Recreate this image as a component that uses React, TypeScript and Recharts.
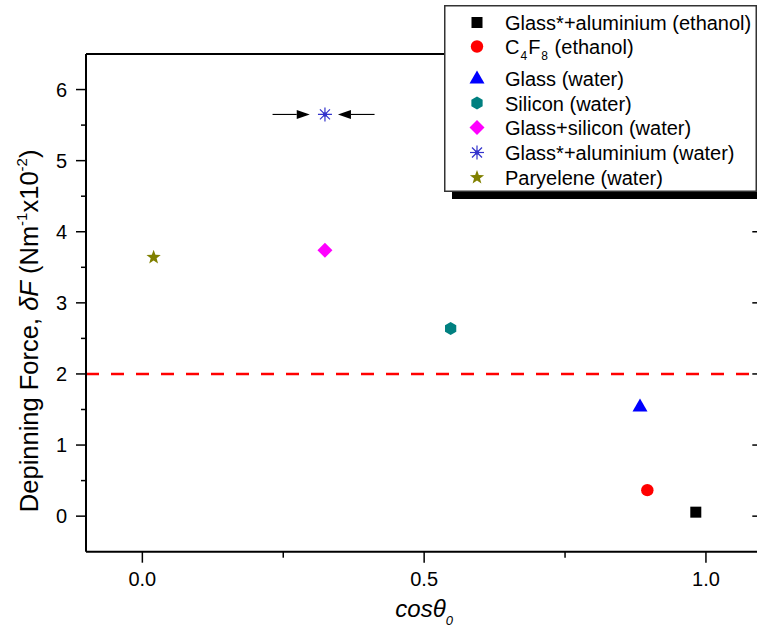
import React from "react";
import { ScatterChart, Scatter, XAxis, YAxis, ReferenceLine } from "recharts";

// one point per surface / liquid pair (cos theta0, depinning force x10^-2)
const glassAlEthanol = [{ x: 0.982, y: 0.056 }];
const c4f8Ethanol = [{ x: 0.896, y: 0.366 }];
const glassWater = [{ x: 0.883, y: 1.55 }];
const siliconWater = [{ x: 0.547, y: 2.64 }];
const glassSiliconWater = [{ x: 0.324, y: 3.74 }];
const glassAlWater = [{ x: 0.324, y: 5.65 }];
const paryleneWater = [{ x: 0.02, y: 3.64 }];

const seriesNames = [
  "Glass*+aluminium (ethanol)",
  "C4F8 (ethanol)",
  "Glass (water)",
  "Silicon (water)",
  "Glass+silicon (water)",
  "Glass*+aluminium (water)",
  "Paryelene (water)",
];

const xTicks = [0, 0.25, 0.5, 0.75, 1];
const xMajor = [0, 0.5, 1];
const yTicks = [0, 0.5, 1, 1.5, 2, 2.5, 3, 3.5, 4, 4.5, 5, 5.5, 6];
const thresholdForce = 2;
// arrows pointing at the glass*+aluminium (water) point
const arrowFrom = [0.231, 0.412];
const arrowTo = [0.297, 0.347];
const arrowLevel = 5.65;

const FONT = '"Liberation Sans", Arial, sans-serif';

const series = [
  { data: glassAlEthanol, kind: "square", color: "#000000" },
  { data: c4f8Ethanol, kind: "circle", color: "#ff0000" },
  { data: glassWater, kind: "triangle", color: "#0000ff" },
  { data: siliconWater, kind: "hexagon", color: "#008080" },
  { data: glassSiliconWater, kind: "diamond", color: "#ff00ff" },
  { data: glassAlWater, kind: "asterisk", color: "#3333cc" },
  { data: paryleneWater, kind: "star", color: "#808000" },
].map((s, i) => ({ ...s, name: seriesNames[i] }));

function Marker({ kind, cx, cy, color }: { kind: string; cx: number; cy: number; color: string }) {
  switch (kind) {
    case "square":
      return <rect x={cx - 5.5} y={cy - 5.5} width={11} height={11} fill={color} />;
    case "circle":
      return <circle cx={cx} cy={cy} r={6.2} fill={color} />;
    case "triangle":
      return <polygon points={`${cx},${cy - 7.5} ${cx + 7.5},${cy + 5.5} ${cx - 7.5},${cy + 5.5}`} fill={color} />;
    case "hexagon": {
      const pts = [0, 1, 2, 3, 4, 5]
        .map((k) => {
          const a = (Math.PI / 3) * k - Math.PI / 2;
          return `${cx + 6.5 * Math.cos(a)},${cy + 6.5 * Math.sin(a)}`;
        })
        .join(" ");
      return <polygon points={pts} fill={color} />;
    }
    case "diamond":
      return <polygon points={`${cx},${cy - 7.5} ${cx + 7.5},${cy} ${cx},${cy + 7.5} ${cx - 7.5},${cy}`} fill={color} />;
    case "asterisk":
      return (
        <g stroke={color} strokeWidth={1.2}>
          <line x1={cx} y1={cy - 7} x2={cx} y2={cy + 7} />
          <line x1={cx - 7} y1={cy} x2={cx + 7} y2={cy} />
          <line x1={cx - 5} y1={cy - 5} x2={cx + 5} y2={cy + 5} />
          <line x1={cx - 5} y1={cy + 5} x2={cx + 5} y2={cy - 5} />
          <circle cx={cx} cy={cy} r={1.6} fill={color} />
        </g>
      );
    case "star": {
      const pts = Array.from({ length: 10 })
        .map((_, k) => {
          const r = k % 2 === 0 ? 7.5 : 3.1;
          const a = (Math.PI / 5) * k - Math.PI / 2;
          return `${cx + r * Math.cos(a)},${cy + r * Math.sin(a)}`;
        })
        .join(" ");
      return <polygon points={pts} fill={color} />;
    }
    default:
      return null;
  }
}

function BottomTick({ x, y, payload }: any) {
  const major = xMajor.includes(payload.value);
  return (
    <g>
      <line x1={x} y1={y} x2={x} y2={y + (major ? 11 : 6)} stroke="#000" strokeWidth={1.5} />
      {major && (
        <text x={x} y={y + 34} textAnchor="middle" fontFamily={FONT} fontSize={20} fill="#000">
          {payload.value.toFixed(1)}
        </text>
      )}
    </g>
  );
}

function TopTick({ x, y, payload }: any) {
  const major = xMajor.includes(payload.value);
  return <line x1={x} y1={y} x2={x} y2={y + (major ? 11 : 6)} stroke="#000" strokeWidth={1.5} />;
}

function LeftTick({ x, y, payload }: any) {
  const major = Number.isInteger(payload.value);
  return (
    <g>
      <line x1={x - (major ? 10 : 5)} y1={y} x2={x} y2={y} stroke="#000" strokeWidth={1.5} />
      {major && (
        <text x={x - 19} y={y + 7} textAnchor="end" fontFamily={FONT} fontSize={20} fill="#000">
          {payload.value}
        </text>
      )}
    </g>
  );
}

function RightTick({ x, y, payload }: any) {
  const major = Number.isInteger(payload.value);
  return <line x1={x - (major ? 10 : 5)} y1={y} x2={x} y2={y} stroke="#000" strokeWidth={1.5} />;
}

function Arrow(props: any) {
  const { x1, y1, x2, y2 } = props;
  const dir = x2 > x1 ? 1 : -1;
  const head = 13;
  return (
    <g>
      <line x1={x1} y1={y1} x2={x2 - dir * head} y2={y2} stroke="#000" strokeWidth={1.1} />
      <polygon points={`${x2},${y2} ${x2 - dir * head},${y2 - 4.5} ${x2 - dir * head},${y2 + 4.5}`} fill="#000" />
    </g>
  );
}

function YTitle({ viewBox }: any) {
  const cx = 38;
  const cy = viewBox.y + viewBox.height / 2 + 28;
  return (
    <text
      x={cx}
      y={cy}
      transform={`rotate(-90 ${cx} ${cy})`}
      textAnchor="middle"
      fontFamily={FONT}
      fontSize={25.5}
      fill="#000"
    >
      Depinning Force, <tspan fontStyle="italic">δF</tspan> (Nm
      <tspan fontSize={15} dy={-11}>-1</tspan>
      <tspan dy={11}>x10</tspan>
      <tspan fontSize={15} dy={-11}>-2</tspan>
      <tspan dy={11}>)</tspan>
    </text>
  );
}

function XTitle({ viewBox }: any) {
  const cx = viewBox.x + viewBox.width / 2;
  const base = viewBox.y + 65;
  return (
    <text x={cx} y={base} textAnchor="middle" fontFamily={FONT} fontSize={24} fontStyle="italic" fill="#000">
      cosθ
      <tspan fontSize={13} dy={8}>0</tspan>
    </text>
  );
}

// splits "C4F8" so digits after a letter become subscripts
function LegendLabel({ text, x, y }: { text: string; x: number; y: number }) {
  const parts = text.split(/(?<=[A-Z])(\d)/);
  return (
    <text x={x} y={y} fontFamily={FONT} fontSize={20} fill="#000">
      {parts.map((p, i) => {
        const sub = /^\d$/.test(p);
        const afterSub = i > 0 && /^\d$/.test(parts[i - 1]);
        return (
          <tspan key={i} fontSize={sub ? 12 : 20} dy={sub ? 6 : afterSub ? -6 : 0} dx={i === 0 ? 0 : 1}>
            {p}
          </tspan>
        );
      })}
    </text>
  );
}

const legendBaselines = [25, 49, 80.5, 105.5, 130, 155, 180];

function LegendBox() {
  return (
    <svg width={322} height={196} style={{ position: "absolute", left: 444, top: 5 }}>
      <rect x={8} y={8} width={312} height={186} fill="#000" />
      <rect x={0.75} y={0.75} width={311.5} height={185.5} fill="#fff" stroke="#333" strokeWidth={1.5} />
      {series.map((s, i) => (
        <g key={s.name}>
          <Marker kind={s.kind} cx={33} cy={legendBaselines[i] - 7.5} color={s.color} />
          <LegendLabel text={s.name} x={61} y={legendBaselines[i]} />
        </g>
      ))}
    </svg>
  );
}

export default function App() {
  return (
    <div style={{ position: "fixed", left: 0, top: 0, width: 757, height: 637, overflow: "hidden", background: "#fff" }}>
      <ScatterChart width={780} height={637} margin={{ top: 53, right: 16.7, bottom: 45.3, left: 26 }}>
        <XAxis
          type="number"
          dataKey="x"
          domain={[-0.1, 1.1]}
          ticks={xTicks}
          interval={0}
          height={40}
          stroke="#000"
          axisLine={{ strokeWidth: 2 }}
          tickLine={false}
          tickSize={0}
          tickMargin={0}
          tick={<BottomTick />}
          allowDataOverflow
          label={{ content: <XTitle /> }}
        />
        <XAxis
          xAxisId="top"
          orientation="top"
          type="number"
          domain={[-0.1, 1.1]}
          ticks={xTicks}
          interval={0}
          height={1}
          stroke="#000"
          axisLine={{ strokeWidth: 2 }}
          tickLine={false}
          tickSize={0}
          tickMargin={0}
          tick={<TopTick />}
          allowDataOverflow
        />
        <YAxis
          type="number"
          dataKey="y"
          domain={[-0.5, 6.5]}
          ticks={yTicks}
          interval={0}
          width={60}
          stroke="#000"
          axisLine={{ strokeWidth: 2 }}
          tickLine={false}
          tickSize={0}
          tickMargin={0}
          tick={<LeftTick />}
          allowDataOverflow
          label={{ content: <YTitle /> }}
        />
        <YAxis
          yAxisId="right"
          orientation="right"
          type="number"
          domain={[-0.5, 6.5]}
          ticks={yTicks}
          interval={0}
          width={1}
          stroke="#000"
          axisLine={{ strokeWidth: 2 }}
          tickLine={false}
          tickSize={0}
          tickMargin={0}
          tick={<RightTick />}
          allowDataOverflow
        />
        <ReferenceLine y={thresholdForce} stroke="#ff0000" strokeWidth={2.5} strokeDasharray="13 12" />
        {arrowFrom.map((from, i) => (
          <ReferenceLine
            key={i}
            segment={[
              { x: from, y: arrowLevel },
              { x: arrowTo[i], y: arrowLevel },
            ]}
            stroke="#000"
            shape={(p: any) => <Arrow {...p} />}
          />
        ))}
        {series.map((s) => (
          <Scatter
            key={s.name}
            name={s.name}
            data={s.data}
            isAnimationActive={false}
            shape={(p: any) => <Marker kind={s.kind} cx={p.cx} cy={p.cy} color={s.color} />}
          />
        ))}
      </ScatterChart>
      <LegendBox />
    </div>
  );
}
